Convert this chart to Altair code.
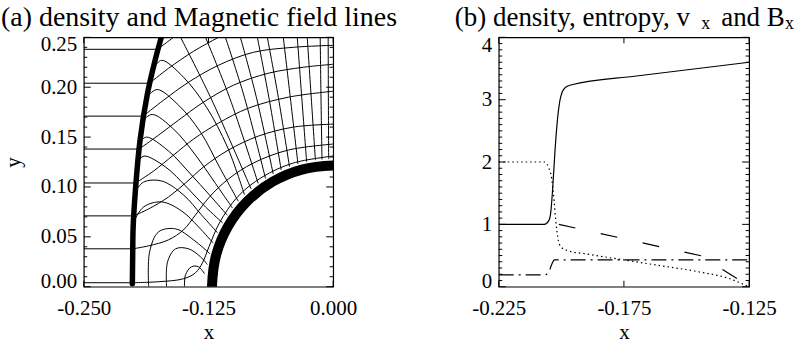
import altair as alt
import pandas as pd

FONT = "Liberation Serif"

# ================= panel (a): density and magnetic field lines =================
UP_Y = [0.004, 0.038, 0.071, 0.104, 0.138, 0.171, 0.204, 0.238]
UP_X_SHOCK = [-0.2012, -0.2008, -0.2000, -0.1980, -0.1945, -0.1905, -0.1840, -0.1760]
UP_X_LEFT = -0.25

SHOCK_X = [-0.2013, -0.2010, -0.2005, -0.1980, -0.1937, -0.1863, -0.1780, -0.1723, -0.1690]
SHOCK_Y = [0.003, 0.030, 0.060, 0.100, 0.146, 0.193, 0.229, 0.250, 0.262]

BODY_X = [-0.1210, -0.1215, -0.1174, -0.1052, -0.0859, -0.0608, -0.0314, 0.0000, 0.0106]
BODY_Y = [-0.0106, 0.0000, 0.0314, 0.0608, 0.0859, 0.1052, 0.1174, 0.1215, 0.1210]

STREAM = {
    "s1": ([-0.2012, -0.1750, -0.1500, -0.1380, -0.1310, -0.1245, -0.1140, -0.0955, -0.0710, -0.0400, 0.0000],
           [0.004, 0.005, 0.008, 0.014, 0.024, 0.040, 0.064, 0.0905, 0.110, 0.124, 0.131]),
    "s2": ([-0.2008, -0.1850, -0.1650, -0.1500, -0.1380, -0.1240, -0.1050, -0.0800, -0.0450, 0.0000],
           [0.038, 0.041, 0.047, 0.057, 0.072, 0.090, 0.108, 0.124, 0.137, 0.143]),
    "s3": ([-0.2000, -0.1850, -0.1650, -0.1480, -0.1300, -0.1050, -0.0750, -0.0400, 0.0000],
           [0.071, 0.078, 0.090, 0.104, 0.120, 0.137, 0.151, 0.160, 0.163]),
    "s4": ([-0.1980, -0.1800, -0.1600, -0.1400, -0.1150, -0.0850, -0.0450, 0.0000],
           [0.104, 0.116, 0.132, 0.148, 0.164, 0.179, 0.190, 0.196]),
    "s5": ([-0.1945, -0.1750, -0.1550, -0.1300, -0.1000, -0.0650, -0.0300, 0.0000],
           [0.138, 0.152, 0.167, 0.185, 0.202, 0.214, 0.220, 0.223]),
    "s6": ([-0.1905, -0.1700, -0.1450, -0.1150, -0.0800, -0.0400, 0.0000],
           [0.171, 0.187, 0.205, 0.222, 0.235, 0.240, 0.242]),
    "s7": ([-0.1840, -0.1650, -0.1400, -0.1150, -0.1000],
           [0.204, 0.219, 0.236, 0.250, 0.258]),
    "s8": ([-0.1760, -0.1600, -0.1500],
           [0.238, 0.250, 0.257]),
}

FIELD = {
    "t1": ([-0.0050, -0.0048, -0.0045], [0.250, 0.190, 0.1279]),
    "t2": ([-0.0130, -0.0122, -0.0112], [0.250, 0.190, 0.1275]),
    "t3": ([-0.0260, -0.0220, -0.0178], [0.250, 0.190, 0.1268]),
    "t4": ([-0.0360, -0.0315, -0.0266], [0.250, 0.190, 0.1252]),
    "t5": ([-0.0500, -0.0430, -0.0353], [0.250, 0.190, 0.1230]),
    "t6": ([-0.0660, -0.0550, -0.0438], [0.250, 0.190, 0.1203]),
    "t7": ([-0.0760, -0.0645, -0.0521], [0.250, 0.190, 0.1169]),
    "t8": ([-0.0930, -0.0770, -0.0601], [0.250, 0.190, 0.1130]),
    "t9": ([-0.1080, -0.0890, -0.0678], [0.250, 0.190, 0.1085]),
    "t10": ([-0.1280, -0.1040, -0.0752], [0.250, 0.190, 0.1036]),
    "t11": ([-0.1530, -0.1230, -0.0823], [0.250, 0.190, 0.0981]),
    "h1": ([-0.1785, -0.1720, -0.1500, -0.1270, -0.1060, -0.0889], [0.221, 0.227, 0.210, 0.180, 0.140, 0.0921]),
    "h2": ([-0.1850, -0.1763, -0.1550, -0.1330, -0.1140, -0.0951], [0.192, 0.1977, 0.182, 0.155, 0.120, 0.0856]),
    "h3": ([-0.1905, -0.1813, -0.1600, -0.1380, -0.1190, -0.1009], [0.167, 0.1727, 0.158, 0.132, 0.105, 0.0788]),
    "h4": ([-0.1935, -0.1873, -0.1650, -0.1430, -0.1240, -0.1061], [0.145, 0.150, 0.136, 0.113, 0.092, 0.0716]),
    "h5": ([-0.1955, -0.1897, -0.1680, -0.1470, -0.1280, -0.1108], [0.126, 0.131, 0.120, 0.100, 0.080, 0.0640]),
    "a1": ([-0.1985, -0.1900, -0.1720, -0.1500, -0.1320, -0.1160], [0.095, 0.105, 0.106, 0.092, 0.072, 0.0541]),
    "a2": ([-0.2000, -0.1900, -0.1720, -0.1520, -0.1350, -0.1203], [0.065, 0.080, 0.085, 0.076, 0.060, 0.0438]),
    "a3": ([-0.1850, -0.1840, -0.1750, -0.1580, -0.1400, -0.1236], [0.000, 0.035, 0.055, 0.058, 0.047, 0.0331]),
    "a4": ([-0.1670, -0.1660, -0.1580, -0.1450, -0.1330, -0.1261], [0.000, 0.025, 0.038, 0.038, 0.030, 0.0222]),
    "a5": ([-0.1490, -0.1480, -0.1420, -0.1350, -0.1290], [0.000, 0.012, 0.020, 0.020, 0.013]),
}

# ================= panel (b): cuts along the axis =================
RHO_X = [-0.2250, -0.2068, -0.2050, -0.2042, -0.2035, -0.2025, -0.2015, -0.2006, -0.1997, -0.1983, -0.1958, -0.1700, -0.1250]
RHO_Y = [1.00, 1.00, 1.06, 1.20, 1.55, 2.20, 2.70, 2.98, 3.12, 3.20, 3.24, 3.38, 3.60]

ENT_X = [-0.2250, -0.2068, -0.2052, -0.2038, -0.2029, -0.2022, -0.2014, -0.2002, -0.1975, -0.1890, -0.1640, -0.1440, -0.1345, -0.1290, -0.1253]
ENT_Y = [2.00, 2.00, 1.92, 1.72, 1.38, 1.05, 0.79, 0.64, 0.58, 0.52, 0.36, 0.23, 0.15, 0.07, 0.00]

VX_X = [-0.2010, -0.1582, -0.1423, -0.1370, -0.1255]
VX_Y = [1.00, 0.62, 0.48, 0.31, 0.02]

BX_X = [-0.2250, -0.2066, -0.2050, -0.2038, -0.2028, -0.1250]
BX_Y = [0.19, 0.19, 0.24, 0.36, 0.43, 0.43]

# ================= ticks =================
A_XTICKS = [-0.25, -0.125, 0.0]
A_YMAJOR = [0.0, 0.05, 0.10, 0.15, 0.20, 0.25]
A_YMINOR = [round(i * 0.01, 2) for i in range(26) if i % 5]
B_XTICKS = [-0.225, -0.175, -0.125]
B_YMAJOR = [0, 1, 2, 3, 4]
B_YMINOR = [round(i * 0.1, 1) for i in range(41) if i % 10]

W, H = 250, 250
LAB = 21


def frame(pairs):
    rows = []
    for name, (xs, ys) in pairs.items():
        for i, (x, y) in enumerate(zip(xs, ys)):
            rows.append({"line": name, "i": i, "x": x, "y": y})
    return pd.DataFrame(rows)


def lines(df, xs, ys, **mk):
    return alt.Chart(df).mark_line(clip=True, color="black", **mk).encode(
        x=alt.X("x:Q", scale=xs, axis=None),
        y=alt.Y("y:Q", scale=ys, axis=None),
        detail="line:N",
        order="i:Q",
    )


def label_layer(xs, ys, xdom, ydom, xticks, ymajor, xfmt, yfmt, ytitle, w, top_off, bot_off):
    d = pd.DataFrame({"x": xdom, "y": ydom})
    xlab = alt.Axis(
        orient="bottom", values=xticks, ticks=False, domain=False, grid=False,
        labelFont=FONT, labelFontSize=LAB, labelColor="black", labelBaseline="alphabetic",
        labelPadding=28, labelFlush=False, labelOverlap=False,
        labelExpr="replace(format(datum.value, '%s'), '\u2212', '-')" % xfmt,
        title="x", titleFont=FONT, titleFontSize=LAB, titleFontWeight="normal", titleColor="black",
        titleX=w / 2, titleY=52, titleBaseline="alphabetic", titleAlign="center",
    )
    yargs = dict(
        orient="left", values=ymajor, ticks=False, domain=False, grid=False,
        labelFont=FONT, labelFontSize=LAB, labelColor="black", labelBaseline="middle",
        labelPadding=7, labelFlush=False, labelOverlap=False,
        labelExpr="format(datum.value, '%s')" % yfmt,
        labelOffset={"condition": [
            {"test": "datum.value == %s" % ydom[0], "value": bot_off},
            {"test": "datum.value == %s" % ydom[1], "value": top_off},
        ], "value": 0},
    )
    if ytitle:
        yargs.update(title=ytitle, titleFont=FONT, titleFontSize=LAB, titleFontWeight="normal",
                     titleColor="black", titleX=-70, titleY=H / 2, titleAngle=-90,
                     titleAlign="center", titleBaseline="middle")
    else:
        yargs.update(title=None)
    return alt.Chart(d).mark_point(opacity=0).encode(
        x=alt.X("x:Q", scale=xs, axis=xlab), y=alt.Y("y:Q", scale=ys, axis=alt.Axis(**yargs)))


def tick_layers(xs, ys, xticks, ymaj, ymin, w, h, xlen=6, ymaj_len=7, ymin_len=3.5):
    out = []
    dx = pd.DataFrame({"v": xticks})
    for y0, y1 in [(0, xlen), (h, h - xlen)]:
        out.append(alt.Chart(dx).mark_rule(color="black", strokeWidth=1).encode(
            x=alt.X("v:Q", scale=xs, axis=None), y=alt.value(y0), y2=alt.value(y1)))
    for vals, L in [(ymaj, ymaj_len), (ymin, ymin_len)]:
        dy = pd.DataFrame({"v": vals})
        for x0, x1 in [(0, L), (w, w - L)]:
            out.append(alt.Chart(dy).mark_rule(color="black", strokeWidth=1).encode(
                y=alt.Y("v:Q", scale=ys, axis=None), x=alt.value(x0), x2=alt.value(x1)))
    return out


def text(txt, x, y, size):
    return alt.Chart(pd.DataFrame({"t": [txt]})).mark_text(
        align="left", baseline="alphabetic", font=FONT, fontSize=size, color="black"
    ).encode(x=alt.value(x), y=alt.value(y), text="t:N")


# ---- panel (a) ----
xa = alt.Scale(domain=[-0.25, 0.0], nice=False, zero=False)
ya = alt.Scale(domain=[0.0, 0.25], nice=False, zero=False)

up = {("u%d" % k): ([UP_X_LEFT, UP_X_SHOCK[k]], [UP_Y[k], UP_Y[k]]) for k in range(len(UP_Y))}

layers_a = [
    lines(frame(up), xa, ya, strokeWidth=1),
    lines(frame(STREAM), xa, ya, strokeWidth=1, interpolate="catmull-rom"),
    lines(frame(FIELD), xa, ya, strokeWidth=1, interpolate="catmull-rom"),
    lines(frame({"shock": (SHOCK_X, SHOCK_Y)}), xa, ya, strokeWidth=5.5, strokeCap="round", interpolate="catmull-rom"),
    lines(frame({"body": (BODY_X, BODY_Y)}), xa, ya, strokeWidth=10, strokeCap="butt", interpolate="catmull-rom"),
]
layers_a += tick_layers(xa, ya, A_XTICKS, A_YMAJOR, A_YMINOR, W, H)
layers_a += [
    label_layer(xa, ya, [-0.25, 0.0], [0.0, 0.25], A_XTICKS, A_YMAJOR, ".3f", ".2f", "y", W, 7, -5),
    text("(a) density and Magnetic field lines", -83, -11, 28),
]
panel_a = alt.layer(*layers_a).resolve_axis(x="independent", y="independent").properties(width=W, height=H)

# ---- panel (b) ----
WB = 251
xb = alt.Scale(domain=[-0.225, -0.125], nice=False, zero=False)
yb = alt.Scale(domain=[0.0, 4.0], nice=False, zero=False)

layers_b = [
    lines(frame({"rho": (RHO_X, RHO_Y)}), xb, yb, strokeWidth=1.2, interpolate="monotone"),
    lines(frame({"ent": (ENT_X, ENT_Y)}), xb, yb, strokeWidth=1.2, strokeDash=[1.5, 3], interpolate="monotone"),
    lines(frame({"vx": (VX_X, VX_Y)}), xb, yb, strokeWidth=1.2, strokeDash=[17, 26]),
    lines(frame({"bx": (BX_X, BX_Y)}), xb, yb, strokeWidth=1.2, strokeDash=[15, 5, 2, 5], interpolate="monotone"),
]
layers_b += tick_layers(xb, yb, B_XTICKS, B_YMAJOR, B_YMINOR, WB, H)
layers_b += [
    label_layer(xb, yb, [-0.225, -0.125], [0.0, 4.0], B_XTICKS, B_YMAJOR, ".3f", "d", None, WB, 8, -5),
    text("(b) density, entropy, v", -44, -11, 27),
    text("x", 203, -8, 18),
    text("and B", 223, -11, 27),
    text("x", 287, -8, 18),
]
panel_b = alt.layer(*layers_b).resolve_axis(x="independent", y="independent").properties(width=WB, height=H)

chart = alt.hconcat(panel_a, panel_b, spacing=166, bounds="flush").properties(
    padding={"left": 0, "top": 3, "right": 0, "bottom": 0}
).configure_view(stroke="black", strokeWidth=1.2)

chart.save("out.html", embed_options={"renderer": "svg", "actions": False})
